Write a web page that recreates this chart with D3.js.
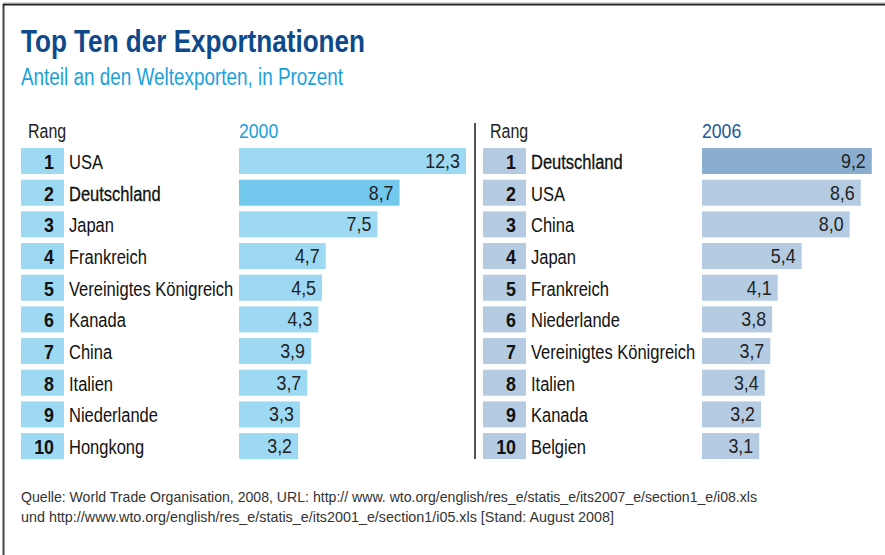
<!DOCTYPE html>
<html><head><meta charset="utf-8">
<script src="https://cdn.jsdelivr.net/npm/d3@7"></script>
<style>
html,body{margin:0;padding:0;background:#fff;}
svg{display:block;}
text{font-family:"Liberation Sans Narrow","Arial Narrow","Liberation Sans",Arial,sans-serif;}
</style></head>
<body>
<svg id="chart" width="885" height="555"></svg>
<script>
const title = "Top Ten der Exportnationen";
const subtitle = "Anteil an den Weltexporten, in Prozent";
const ranks = [1,2,3,4,5,6,7,8,9,10];
const countries2000 = ["USA","Deutschland","Japan","Frankreich","Vereinigtes Königreich","Kanada","China","Italien","Niederlande","Hongkong"];
const values2000 = [12.3,8.7,7.5,4.7,4.5,4.3,3.9,3.7,3.3,3.2];
const countries2006 = ["Deutschland","USA","China","Japan","Frankreich","Niederlande","Vereinigtes Königreich","Italien","Kanada","Belgien"];
const values2006 = [9.2,8.6,8.0,5.4,4.1,3.8,3.7,3.4,3.2,3.1];
const highlight = "Deutschland";
const sourceLines = [
  "Quelle: World Trade Organisation, 2008, URL: http:// www. wto.org/english/res_e/statis_e/its2007_e/section1_e/i08.xls",
  "und http://www.wto.org/english/res_e/statis_e/its2001_e/section1/i05.xls [Stand: August 2008]"
];

const svg = d3.select("#chart");
const loc = d3.formatLocale({decimal:",",thousands:".",grouping:[3],currency:["","€"]});
const fmt = loc.format(".1f");

// horizontally condense text to imitate a narrow typeface
function squeeze(sel, k){
  sel.each(function(){
    const len = this.getComputedTextLength();
    d3.select(this).attr("textLength", len*k).attr("lengthAdjust","spacingAndGlyphs");
  });
  return sel;
}

// frame
svg.append("line").attr("x1",3.5).attr("x2",3.5).attr("y1",4).attr("y2",555).attr("stroke","#444").attr("stroke-width",2);
svg.append("line").attr("x1",3).attr("x2",885).attr("y1",4.5).attr("y2",4.5).attr("stroke","#222").attr("stroke-width",2);
svg.append("line").attr("x1",3).attr("x2",885).attr("y1",3).attr("y2",3).attr("stroke","#aaa").attr("stroke-width",1);

svg.append("text").attr("x",21).attr("y",52).text(title)
  .attr("font-size",32).attr("font-weight","bold").attr("fill","#0e4a8b")
  .attr("textLength",344).attr("lengthAdjust","spacingAndGlyphs");
svg.append("text").attr("x",21).attr("y",85).text(subtitle)
  .attr("font-size",23).attr("fill","#1ba2dd")
  .attr("textLength",322).attr("lengthAdjust","spacingAndGlyphs");

const x = d3.scaleLinear().domain([0,12.3]).range([0,227]);
const y = d3.scaleBand().domain(ranks).range([145.2,461.9]).paddingInner(0.179).paddingOuter(0.0895);

function panel(cfg){
  const g = svg.append("g");
  squeeze(g.append("text").attr("x",cfg.rangX).attr("y",138).text("Rang").attr("font-size",20).attr("fill","#222"),0.8);
  squeeze(g.append("text").attr("x",cfg.barX).attr("y",138).text(cfg.year).attr("font-size",21).attr("fill",cfg.yearColor),0.84);
  const rows = cfg.countries.map((c,i)=>({rank:ranks[i],country:c,value:cfg.values[i]}));
  const r = g.selectAll("g.row").data(rows).join("g").attr("class","row");
  r.append("rect").attr("x",cfg.boxX).attr("y",d=>y(d.rank)).attr("width",cfg.boxW).attr("height",y.bandwidth()).attr("fill",cfg.boxColor);
  squeeze(r.append("text").attr("x",cfg.boxX+cfg.boxW-10).attr("y",d=>y(d.rank)+21).attr("text-anchor","end")
    .attr("font-size",21).attr("font-weight","bold").attr("fill","#111").text(d=>d.rank),0.85);
  squeeze(r.append("text").attr("x",cfg.boxX+cfg.boxW+5).attr("y",d=>y(d.rank)+21)
    .attr("font-size",20).attr("fill","#111")
    .attr("stroke",d=>d.country===highlight?"#111":"none").attr("stroke-width",0.3)
    .text(d=>d.country),0.825);
  r.append("rect").attr("x",cfg.barX).attr("y",d=>y(d.rank)).attr("width",d=>x(d.value)).attr("height",y.bandwidth())
    .attr("fill",d=>d.country===highlight?cfg.hiColor:cfg.barColor);
  squeeze(r.append("text").attr("x",d=>cfg.barX+x(d.value)-6).attr("y",d=>y(d.rank)+20).attr("text-anchor","end")
    .attr("font-size",21).attr("fill","#222").text(d=>fmt(d.value)),0.85);
}

panel({rangX:28,boxX:21,boxW:43,barX:239,year:"2000",yearColor:"#1b9edb",countries:countries2000,values:values2000,boxColor:"#9dd9f3",barColor:"#9dd9f3",hiColor:"#73c8ee"});
panel({rangX:490,boxX:483,boxW:43,barX:702,year:"2006",yearColor:"#1c5a9b",countries:countries2006,values:values2006,boxColor:"#b4cbe2",barColor:"#b4cbe2",hiColor:"#8aadd0"});

svg.append("line").attr("x1",475).attr("x2",475).attr("y1",123).attr("y2",459).attr("stroke","#555").attr("stroke-width",2);

svg.selectAll("text.src").data(sourceLines).join("text").attr("class","src")
  .attr("x",21).attr("y",(d,i)=>502+i*20).attr("font-size",15).attr("fill","#333")
  .attr("textLength",(d,i)=>i===0?736:593).attr("lengthAdjust","spacingAndGlyphs")
  .text(d=>d);
</script>
</body></html>
